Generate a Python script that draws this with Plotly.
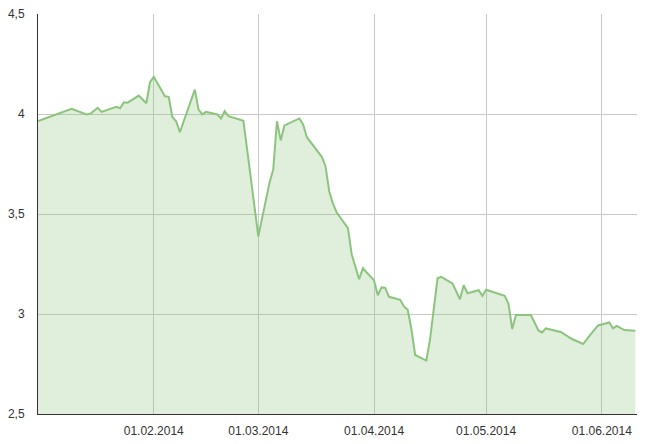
import plotly.graph_objects as go

dates = [
    "2014-01-01", "2014-01-10", "2014-01-14", "2014-01-15", "2014-01-17", "2014-01-18",
    "2014-01-22", "2014-01-23", "2014-01-24", "2014-01-25", "2014-01-28", "2014-01-30",
    "2014-01-31", "2014-02-01", "2014-02-04", "2014-02-05", "2014-02-06", "2014-02-07",
    "2014-02-08", "2014-02-12", "2014-02-13", "2014-02-14", "2014-02-15", "2014-02-18",
    "2014-02-19", "2014-02-20", "2014-02-21", "2014-02-25", "2014-02-26", "2014-03-01",
    "2014-03-04", "2014-03-05", "2014-03-06", "2014-03-07", "2014-03-08", "2014-03-12",
    "2014-03-13", "2014-03-14", "2014-03-18", "2014-03-19", "2014-03-20", "2014-03-21",
    "2014-03-22", "2014-03-25", "2014-03-26", "2014-03-28", "2014-03-29", "2014-04-01",
    "2014-04-02", "2014-04-03", "2014-04-04", "2014-04-05", "2014-04-08", "2014-04-09",
    "2014-04-10", "2014-04-11", "2014-04-12", "2014-04-15", "2014-04-16", "2014-04-18",
    "2014-04-19", "2014-04-22", "2014-04-24", "2014-04-25", "2014-04-26", "2014-04-29",
    "2014-04-30", "2014-05-01", "2014-05-06", "2014-05-07", "2014-05-08", "2014-05-09",
    "2014-05-13", "2014-05-15", "2014-05-16", "2014-05-17", "2014-05-21", "2014-05-24",
    "2014-05-27", "2014-05-28", "2014-05-29", "2014-05-31", "2014-06-03", "2014-06-04",
    "2014-06-05", "2014-06-07", "2014-06-10",
]
values = [
    3.965, 4.026, 3.998, 4.001, 4.031, 4.011,
    4.036, 4.029, 4.059, 4.057, 4.092, 4.054,
    4.159, 4.186, 4.089, 4.086, 3.984, 3.964,
    3.909, 4.122, 4.022, 3.998, 4.011, 3.998,
    3.978, 4.014, 3.989, 3.966, 3.823, 3.388,
    3.657, 3.723, 3.964, 3.868, 3.943, 3.978,
    3.948, 3.884, 3.786, 3.739, 3.613, 3.552,
    3.507, 3.429, 3.299, 3.174, 3.229, 3.168,
    3.094, 3.133, 3.131, 3.086, 3.071, 3.038,
    3.021, 2.925, 2.795, 2.767, 2.875, 3.179,
    3.186, 3.153, 3.074, 3.144, 3.104, 3.119,
    3.091, 3.121, 3.091, 3.051, 2.925, 2.995,
    2.995, 2.918, 2.908, 2.928, 2.910, 2.875,
    2.850, 2.877, 2.898, 2.943, 2.958, 2.928,
    2.941, 2.920, 2.916,
]

x_tick_vals = ["2014-02-01", "2014-03-01", "2014-04-01", "2014-05-01", "2014-06-01"]
x_tick_text = ["01.02.2014", "01.03.2014", "01.04.2014", "01.05.2014", "01.06.2014"]
y_tick_vals = [2.5, 3, 3.5, 4, 4.5]
y_tick_text = ["2,5", "3", "3,5", "4", "4,5"]

fig = go.Figure()
fig.add_trace(go.Scatter(
    x=dates, y=values, mode="lines",
    line=dict(color="#8cc47e", width=2),
    fill="tozeroy", fillcolor="rgba(141,197,127,0.28)",
    hoverinfo="x+y",
))

# page body has an 8px default margin, so the figure is offset by (8, 8)
fig.update_layout(
    width=641, height=436,
    margin=dict(l=30, r=12, t=6, b=30),
    paper_bgcolor="white", plot_bgcolor="white",
    showlegend=False,
    font=dict(family="Liberation Sans, Arial, sans-serif", size=12, color="#333333"),
    separators=", ",
)
fig.update_xaxes(
    type="date",
    range=["2014-01-01", "2014-06-10 10:00"],
    tickvals=x_tick_vals, ticktext=x_tick_text,
    showgrid=True, gridcolor="#c8c8c8", gridwidth=1,
    showline=True, linecolor="#333333", linewidth=1,
    ticks="", ticklabelstandoff=6,
    zeroline=False, automargin=False,
)
fig.update_yaxes(
    range=[2.5, 4.5002],
    tickvals=y_tick_vals, ticktext=y_tick_text,
    showgrid=True, gridcolor="#c8c8c8", gridwidth=1,
    showline=True, linecolor="#333333", linewidth=1,
    ticks="", ticklabelstandoff=10, ticklabeloverflow="allow",
    zeroline=False, automargin=False,
)

fig.write_html("out.html")
